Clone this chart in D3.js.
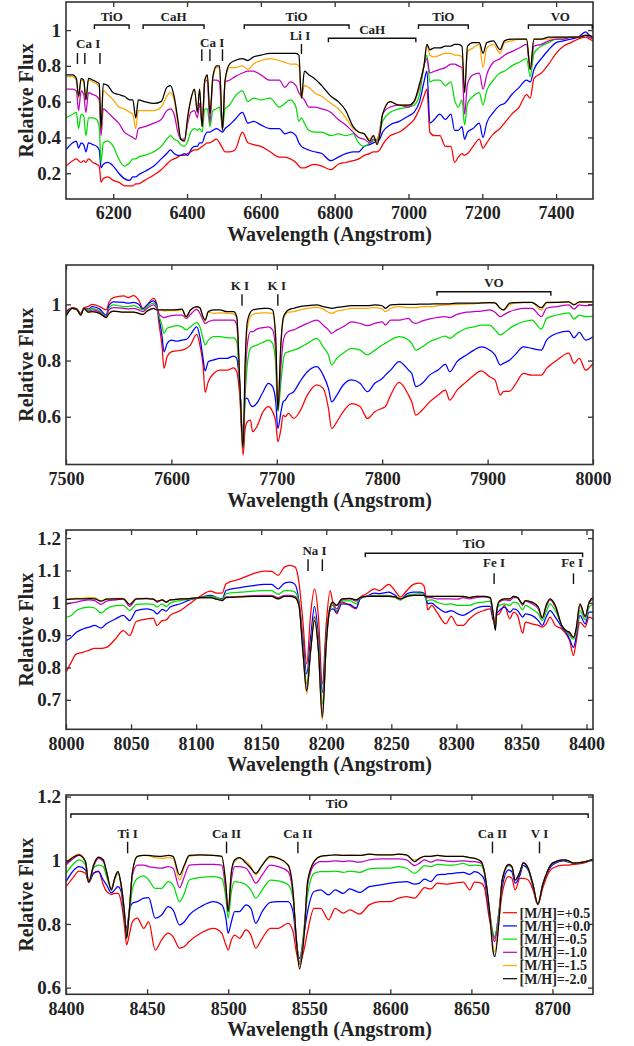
<!DOCTYPE html>
<html lang="en">
<head>
<meta charset="UTF-8">
<title>Model spectra at different metallicities</title>
<script src="https://d3js.org/d3.v7.min.js"></script>
<style>
  body { margin: 0; background: #fff; }
  text { font-family: "Liberation Serif", "Times New Roman", serif; font-weight: bold; fill: #222; }
</style>
</head>
<body>
<div id="chart"></div>
<script>
// legend labels and colours, drawn in this order (black last, on top)
const labels = ["[M/H]=+0.5", "[M/H]=+0.0", "[M/H]=-0.5", "[M/H]=-1.0", "[M/H]=-1.5", "[M/H]=-2.0"];
const colors = ["#ff0000", "#0000ff", "#00dd00", "#c000c0", "#ffa500", "#000000"];

// ---- panel 1: 6072-7500 A
const wave1 = [6072, 6090, 6100, 6106, 6113, 6120, 6126, 6133, 6145, 6155,
  6162, 6167, 6173, 6185, 6200, 6215, 6230, 6245, 6253, 6261,
  6268, 6285, 6310, 6330, 6345, 6355, 6365, 6375, 6383, 6393,
  6402, 6410, 6420, 6428, 6434, 6441, 6448, 6455, 6462, 6470,
  6480, 6488, 6496, 6503, 6515, 6530, 6550, 6565, 6580, 6600,
  6625, 6650, 6665, 6680, 6695, 6703, 6710, 6718, 6730, 6745,
  6765, 6790, 6810, 6830, 6850, 6865, 6880, 6895, 6905, 6915,
  6922, 6930, 6950, 6975, 7000, 7015, 7030, 7042, 7050, 7058,
  7070, 7085, 7100, 7115, 7125, 7135, 7145, 7152, 7160, 7175,
  7192, 7202, 7212, 7230, 7248, 7260, 7280, 7300, 7320, 7330,
  7340, 7360, 7380, 7400, 7420, 7440, 7460, 7480, 7490, 7500];
const p1_p05 = [.24, .27, .28, .27, .26, .27, .26, .28, .26, .25,
  .24, .15, .17, .18, .16, .15, .13, .13, .13, .14,
  .14, .16, .19, .22, .25, .27, .28, .29, .30, .30,
  .31, .32, .33, .33, .34, .35, .36, .37, .37, .38,
  .39, .37, .34, .32, .32, .33, .43, .37, .36, .35,
  .32, .29, .29, .28, .26, .24, .23, .23, .24, .25,
  .24, .22, .25, .26, .27, .28, .30, .31, .32, .32,
  .33, .36, .41, .43, .47, .50, .56, .63, .67, .43,
  .41, .41, .35, .35, .26, .29, .31, .30, .31, .35,
  .39, .34, .37, .42, .45, .48, .53, .57, .64, .62,
  .73, .76, .81, .87, .91, .93, .95, .96, .95, .94];
const p1_p00 = [.33, .37, .38, .34, .37, .36, .32, .37, .36, .35,
  .33, .23, .25, .26, .24, .20, .17, .16, .18, .18,
  .19, .21, .24, .28, .31, .33, .31, .30, .30, .31,
  .30, .33, .35, .35, .37, .37, .41, .43, .43, .44,
  .45, .44, .43, .45, .47, .50, .54, .48, .49, .47,
  .45, .45, .42, .43, .41, .37, .35, .34, .33, .32,
  .31, .27, .29, .31, .32, .32, .35, .36, .37, .38,
  .39, .43, .47, .49, .52, .54, .60, .71, .77, .48,
  .50, .53, .50, .53, .44, .44, .46, .39, .43, .45,
  .48, .40, .48, .54, .58, .59, .64, .68, .72, .71,
  .78, .84, .89, .93, .94, .95, .96, .99, .97, .95];
const p1_m05 = [.51, .53, .54, .45, .53, .52, .41, .51, .51, .50,
  .46, .26, .37, .38, .35, .28, .24, .26, .28, .28,
  .29, .30, .32, .35, .39, .41, .39, .38, .36, .35,
  .38, .43, .45, .44, .45, .43, .56, .56, .46, .55,
  .56, .57, .45, .56, .58, .63, .66, .60, .62, .61,
  .62, .57, .59, .61, .57, .49, .51, .48, .44, .43,
  .43, .41, .42, .41, .42, .37, .35, .37, .38, .39,
  .43, .49, .54, .56, .57, .58, .64, .80, .86, .71,
  .72, .72, .69, .71, .61, .57, .61, .47, .59, .63,
  .65, .58, .66, .72, .76, .77, .80, .82, .84, .74,
  .87, .91, .93, .95, .95, .96, .96, .97, .96, .95];
const p1_m10 = [.67, .67, .66, .55, .66, .64, .54, .65, .64, .63,
  .61, .41, .56, .54, .51, .48, .43, .41, .40, .39,
  .45, .46, .48, .50, .55, .56, .53, .43, .39, .39,
  .48, .54, .55, .51, .59, .46, .71, .72, .48, .72,
  .72, .71, .44, .71, .72, .74, .76, .77, .77, .75,
  .72, .72, .68, .71, .69, .65, .63, .61, .57, .57,
  .56, .54, .50, .47, .43, .40, .39, .37, .39, .38,
  .44, .53, .57, .58, .57, .60, .68, .80, .84, .76,
  .77, .78, .79, .81, .81, .80, .79, .53, .70, .75,
  .76, .67, .75, .82, .84, .86, .88, .90, .92, .78,
  .91, .92, .94, .95, .95, .96, .96, .97, .96, .95];
const p1_m15 = [.74, .74, .72, .62, .72, .71, .61, .72, .71, .70,
  .68, .45, .66, .64, .61, .57, .56, .54, .53, .45,
  .55, .55, .55, .57, .63, .65, .61, .48, .39, .38,
  .50, .61, .67, .54, .67, .46, .71, .74, .53, .73,
  .79, .79, .44, .71, .79, .79, .80, .78, .81, .83,
  .84, .83, .82, .81, .81, .80, .62, .69, .68, .65,
  .63, .59, .56, .51, .45, .43, .42, .39, .41, .37,
  .43, .53, .60, .58, .58, .60, .69, .80, .92, .86,
  .85, .86, .87, .87, .86, .86, .85, .65, .88, .90,
  .92, .79, .90, .92, .87, .93, .94, .95, .95, .78,
  .95, .95, .95, .96, .96, .96, .96, .97, .97, .96];
const p1_m20 = [.75, .75, .73, .63, .73, .72, .61, .73, .72, .71,
  .70, .45, .70, .69, .65, .64, .63, .61, .61, .51,
  .61, .60, .59, .60, .68, .69, .63, .50, .39, .38,
  .52, .61, .67, .54, .67, .46, .72, .75, .53, .74,
  .80, .80, .44, .72, .81, .83, .84, .83, .85, .86,
  .87, .87, .87, .87, .87, .86, .62, .77, .75, .73,
  .69, .63, .60, .55, .46, .43, .42, .38, .41, .36,
  .41, .53, .60, .58, .58, .60, .70, .80, .92, .89,
  .90, .90, .91, .91, .92, .92, .91, .65, .91, .93,
  .93, .87, .93, .94, .89, .94, .95, .95, .95, .78,
  .95, .95, .96, .96, .96, .96, .96, .97, .97, .96];

// ---- panel 2: 7500-8000 A
const wave2 = [7500, 7506, 7510, 7514, 7517, 7521, 7525, 7532, 7538, 7541,
  7545, 7555, 7559, 7564, 7569, 7573, 7577, 7583, 7586, 7588,
  7591, 7593, 7596, 7600, 7605, 7610, 7614, 7618, 7624, 7627,
  7630, 7632, 7635, 7640, 7646, 7653, 7659, 7662, 7665, 7668,
  7670, 7672, 7675, 7677, 7681, 7687, 7692, 7696, 7699, 7701,
  7704, 7706, 7708, 7711, 7716, 7722, 7729, 7738, 7744, 7749,
  7752, 7757, 7763, 7771, 7779, 7786, 7793, 7800, 7803, 7808,
  7816, 7825, 7828, 7832, 7838, 7845, 7853, 7860, 7864, 7871,
  7880, 7887, 7894, 7902, 7907, 7912, 7915, 7921, 7926, 7934,
  7942, 7951, 7956, 7966, 7977, 7982, 7987, 7993, 8000];
const p2_p05 = [.974, .988, .985, .968, .988, .992, 1.000, .992, .980, 1.009,
  1.024, 1.030, 1.024, 1.031, 1.015, .986, .998, 1.021, 1.004, .938,
  .855, .772, .814, .831, .834, .837, .843, .855, .893, .855,
  .784, .687, .725, .754, .766, .766, .774, .760, .665, .463,
  .558, .582, .588, .547, .564, .618, .636, .618, .582, .511,
  .558, .606, .600, .612, .594, .620, .677, .713, .701, .630,
  .558, .582, .618, .647, .636, .594, .618, .630, .636, .677,
  .722, .677, .653, .606, .624, .653, .677, .695, .659, .695,
  .725, .748, .763, .742, .731, .677, .689, .691, .713, .754,
  .748, .748, .772, .802, .826, .790, .808, .766, .790];
const p2_p00 = [.972, .986, .983, .962, .986, .983, .992, .983, .962, .998,
  1.009, 1.007, 1.004, 1.007, 1.000, .983, .998, 1.012, .998, .956,
  .891, .831, .861, .873, .869, .873, .875, .891, .920, .885,
  .808, .763, .796, .802, .808, .808, .816, .808, .701, .511,
  .665, .665, .642, .636, .648, .689, .719, .707, .653, .558,
  .618, .653, .659, .677, .689, .725, .760, .778, .748, .701,
  .653, .677, .713, .731, .719, .689, .719, .736, .748, .766,
  .796, .766, .754, .707, .719, .748, .766, .786, .760, .796,
  .820, .837, .849, .837, .820, .784, .790, .802, .820, .849,
  .843, .837, .873, .897, .905, .881, .900, .873, .885];
const p2_m05 = [.968, .986, .983, .962, .986, .980, .986, .976, .957, .988,
  .998, .992, .992, .995, .988, .980, .992, 1.004, .992, .962,
  .926, .897, .915, .920, .924, .920, .909, .920, .935, .920,
  .879, .855, .873, .885, .885, .881, .881, .867, .701, .487,
  .677, .784, .843, .849, .855, .865, .873, .861, .784, .618,
  .725, .796, .826, .831, .837, .846, .861, .879, .849, .820,
  .784, .808, .826, .843, .837, .820, .837, .855, .861, .873,
  .885, .873, .861, .837, .849, .867, .879, .887, .879, .897,
  .915, .920, .926, .926, .909, .891, .897, .915, .926, .938,
  .944, .912, .950, .962, .970, .948, .962, .956, .958];
const p2_m10 = [.964, .986, .983, .962, .986, .976, .980, .972, .955, .982,
  .988, .986, .983, .986, .980, .974, .986, .998, .986, .968,
  .956, .953, .956, .960, .962, .962, .950, .964, .982, .968,
  .944, .932, .938, .944, .944, .944, .944, .926, .701, .493,
  .725, .855, .903, .903, .912, .917, .920, .909, .831, .624,
  .784, .867, .893, .903, .909, .920, .932, .944, .926, .909,
  .897, .909, .920, .938, .932, .924, .932, .938, .926, .944,
  .944, .950, .938, .932, .941, .948, .954, .956, .953, .964,
  .972, .974, .976, .980, .972, .956, .962, .974, .980, .986,
  .986, .956, .986, .992, .998, .983, .998, .995, .998];
const p2_m15 = [.958, .986, .983, .962, .986, .972, .974, .968, .953, .968,
  .976, .972, .972, .972, .968, .964, .976, .986, .980, .980,
  .980, .976, .978, .978, .978, .980, .953, .978, .990, .986,
  .953, .941, .972, .968, .970, .968, .966, .950, .701, .487,
  .784, .915, .956, .964, .968, .970, .970, .968, .867, .630,
  .867, .944, .962, .972, .974, .980, .986, .989, .983, .972,
  .968, .976, .980, .986, .986, .986, .988, .983, .974, .986,
  .992, .988, .988, .988, .992, .992, .995, .998, .998, 1.000,
  1.001, 1.002, 1.004, 1.005, 1.004, .986, .980, .998, 1.004, 1.006,
  1.006, .980, 1.004, 1.007, 1.009, 1.000, 1.007, 1.007, 1.009];
const p2_m20 = [.958, .986, .983, .962, .986, .972, .974, .968, .953, .968,
  .976, .972, .972, .972, .968, .964, .976, .986, .980, .980,
  .980, .980, .980, .980, .981, .983, .956, .980, .992, .988,
  .956, .944, .974, .980, .980, .974, .974, .956, .713, .487,
  .796, .938, .972, .980, .983, .986, .986, .980, .879, .624,
  .867, .950, .968, .980, .986, .992, .995, .998, .992, .988,
  .986, .989, .992, .995, .995, .995, .998, .995, .986, .998,
  1.000, 1.000, 1.000, 1.000, 1.001, 1.001, 1.002, 1.002, 1.002, 1.004,
  1.004, 1.004, 1.005, 1.006, 1.005, .986, .980, 1.004, 1.006, 1.007,
  1.007, .988, 1.007, 1.007, 1.009, .998, 1.009, 1.009, 1.009];

// ---- panel 3: 8000-8405 A
const wave3 = [8000, 8004, 8008, 8013, 8018, 8022, 8027, 8031, 8038, 8044,
  8049, 8054, 8062, 8067, 8070, 8074, 8077, 8080, 8088, 8095,
  8103, 8111, 8116, 8120, 8123, 8134, 8144, 8152, 8158, 8163,
  8168, 8172, 8176, 8179, 8182, 8185, 8188, 8191, 8194, 8197,
  8200, 8203, 8205, 8208, 8212, 8218, 8223, 8226, 8231, 8237,
  8241, 8248, 8253, 8257, 8262, 8267, 8272, 8275, 8277, 8278,
  8281, 8285, 8292, 8296, 8301, 8305, 8310, 8315, 8321, 8326,
  8328, 8330, 8331, 8333, 8337, 8341, 8344, 8347, 8351, 8353,
  8358, 8363, 8366, 8369, 8372, 8376, 8381, 8385, 8387, 8390,
  8392, 8395, 8399, 8402, 8405];
const p3_p05 = [.785, .816, .842, .847, .854, .859, .859, .862, .888, .914,
  .899, .942, .950, .953, .930, .945, .947, .961, .976, .997,
  1.020, 1.036, 1.030, 1.030, 1.059, 1.074, 1.090, 1.098, 1.097, 1.085,
  1.111, 1.116, 1.111, 1.064, .945, .811, .966, 1.043, .956, .749,
  .935, 1.038, 1.002, .966, 1.002, .992, .981, 1.016, 1.028, 1.043,
  1.038, 1.057, 1.036, 1.018, 1.038, 1.057, 1.061, 1.053, 1.007, .978,
  .992, .971, .935, .958, .930, .930, .950, .966, .976, .981,
  .950, .935, .961, .966, .992, .950, .971, .961, .906, .940,
  .935, .930, .925, .935, .956, .930, .919, .899, .883, .837,
  .878, .940, .925, .956, .950];
const p3_p00 = [.883, .893, .909, .919, .925, .930, .922, .935, .950, .961,
  .945, .976, .981, .976, .966, .980, .974, .987, .997, 1.009,
  1.016, 1.023, 1.016, 1.012, 1.038, 1.047, 1.053, 1.057, 1.057, 1.043,
  1.061, 1.064, 1.057, 1.007, .893, .780, .893, .989, .893, .723,
  .904, .976, .981, .971, .997, .995, .984, 1.012, 1.020, 1.030,
  1.028, 1.033, 1.023, 1.009, 1.028, 1.033, 1.033, 1.030, 1.007, .997,
  .999, .987, .971, .976, .966, .961, .971, .983, .989, .989,
  .956, .930, .966, .976, .987, .971, .981, .976, .956, .966,
  .961, .945, .930, .956, .976, .956, .925, .904, .888, .862,
  .893, .961, .935, .971, .971];
const p3_m05 = [.956, .961, .976, .984, .987, .984, .968, .981, .991, .992,
  .976, .995, .997, .995, .987, .997, .988, .999, 1.007, 1.011,
  1.016, 1.020, 1.016, 1.010, 1.028, 1.033, 1.036, 1.038, 1.038, 1.026,
  1.038, 1.038, 1.033, 1.002, .873, .749, .862, .958, .873, .687,
  .893, .981, .992, .976, 1.005, 1.007, .997, 1.016, 1.020, 1.023,
  1.023, 1.023, 1.016, 1.009, 1.023, 1.026, 1.028, 1.026, 1.009, 1.007,
  1.009, 1.002, .995, .997, .992, .992, .992, .999, 1.002, 1.005,
  .966, .930, .976, .992, .997, .992, 1.002, .999, .978, .992,
  .981, .966, .945, .971, .997, .976, .930, .909, .899, .888,
  .904, .976, .947, .987, .995];
const p3_m10 = [.995, .999, 1.002, 1.007, 1.009, 1.007, .995, 1.005, 1.009, 1.012,
  .989, 1.012, 1.014, 1.012, 1.002, 1.009, 1.002, 1.009, 1.012, 1.013,
  1.016, 1.016, 1.011, 1.007, 1.018, 1.020, 1.022, 1.023, 1.023, 1.016,
  1.023, 1.023, 1.020, .997, .862, .728, .852, .956, .852, .656,
  .873, .987, .999, .981, 1.009, 1.012, 1.005, 1.016, 1.020, 1.021,
  1.021, 1.021, 1.018, 1.012, 1.020, 1.023, 1.023, 1.023, 1.016, 1.016,
  1.016, 1.012, 1.012, 1.012, 1.011, 1.016, 1.012, 1.016, 1.018, 1.014,
  .971, .925, .976, 1.002, 1.009, 1.007, 1.016, 1.016, .992, 1.005,
  .997, .981, .953, .987, 1.009, .987, .930, .912, .904, .893,
  .914, .992, .956, .999, 1.012];
const p3_m15 = [1.012, 1.013, 1.014, 1.014, 1.016, 1.016, 1.005, 1.012, 1.014, 1.014,
  .995, 1.014, 1.014, 1.012, 1.005, 1.009, 1.002, 1.009, 1.012, 1.013,
  1.016, 1.016, 1.011, 1.007, 1.016, 1.018, 1.020, 1.020, 1.020, 1.012,
  1.020, 1.020, 1.016, .992, .852, .718, .852, .950, .852, .637,
  .873, .987, 1.002, .992, 1.012, 1.014, 1.009, 1.016, 1.020, 1.020,
  1.020, 1.020, 1.018, 1.012, 1.020, 1.023, 1.023, 1.023, 1.020, 1.020,
  1.020, 1.020, 1.020, 1.020, 1.020, 1.020, 1.016, 1.020, 1.020, 1.016,
  .976, .919, .976, 1.005, 1.012, 1.012, 1.020, 1.016, .997, 1.007,
  1.002, .987, .953, .992, 1.012, .992, .930, .912, .909, .893,
  .919, .997, .958, 1.002, 1.016];
const p3_m20 = [1.010, 1.011, 1.012, 1.012, 1.013, 1.012, 1.005, 1.011, 1.012, 1.012,
  .995, 1.012, 1.013, 1.011, 1.005, 1.009, 1.002, 1.009, 1.012, 1.013,
  1.016, 1.016, 1.011, 1.007, 1.016, 1.018, 1.020, 1.020, 1.020, 1.012,
  1.020, 1.020, 1.016, .992, .852, .728, .852, .945, .852, .645,
  .873, .987, 1.002, .992, 1.012, 1.014, 1.009, 1.016, 1.020, 1.020,
  1.020, 1.020, 1.018, 1.012, 1.020, 1.023, 1.023, 1.023, 1.020, 1.020,
  1.020, 1.020, 1.020, 1.020, 1.020, 1.020, 1.016, 1.020, 1.020, 1.016,
  .976, .914, .976, 1.005, 1.012, 1.012, 1.020, 1.016, .997, 1.007,
  1.002, .987, .953, .992, 1.012, .992, .930, .912, .909, .893,
  .919, .997, .958, 1.002, 1.016];

// ---- panel 4: 8400-8725 A
const wave4 = [8400, 8404, 8408, 8412, 8414, 8417, 8420, 8423, 8425, 8428,
  8430, 8432, 8434, 8436, 8437.4, 8439, 8441, 8444, 8448, 8451,
  8455, 8459, 8463, 8466, 8470, 8473, 8476, 8483, 8491, 8496,
  8498.6, 8500, 8502, 8504, 8507, 8511, 8514, 8517, 8521, 8526,
  8531, 8537, 8540, 8542, 8544, 8547, 8549, 8553, 8557, 8562,
  8566, 8571, 8575, 8581, 8587, 8594, 8600, 8605, 8610, 8615,
  8618, 8621, 8625, 8629, 8634, 8639, 8645, 8649, 8652, 8656,
  8658, 8661, 8663.4, 8664.4, 8667, 8669, 8673, 8675, 8677, 8680,
  8682, 8685, 8688, 8691, 8694, 8697, 8700, 8707, 8710, 8713,
  8719, 8725];
const p4_p05 = [.917, .943, .966, .959, .931, .959, .966, .923, .902, .893,
  .896, .896, .870, .797, .734, .765, .807, .818, .786, .807,
  .718, .750, .771, .760, .724, .729, .745, .771, .786, .771,
  .734, .718, .750, .765, .755, .781, .765, .724, .755, .786,
  .786, .802, .776, .713, .675, .724, .776, .849, .849, .813,
  .849, .834, .844, .831, .860, .870, .870, .881, .886, .881,
  .896, .914, .910, .928, .925, .928, .931, .907, .931, .928,
  .914, .818, .765, .755, .818, .896, .949, .943, .907, .943,
  .943, .938, .907, .860, .912, .954, .975, .985, .985, .987,
  .991, 1.003];
const p4_p00 = [.933, .964, .980, .970, .931, .959, .964, .938, .923, .898,
  .907, .917, .902, .818, .786, .839, .865, .870, .881, .883,
  .818, .828, .854, .844, .797, .807, .828, .854, .870, .860,
  .818, .771, .807, .839, .839, .860, .849, .802, .839, .868,
  .870, .870, .839, .745, .692, .776, .839, .902, .907, .891,
  .907, .896, .910, .899, .917, .923, .928, .931, .933, .925,
  .928, .941, .933, .954, .956, .959, .962, .956, .964, .954,
  .938, .834, .765, .760, .839, .917, .970, .964, .928, .954,
  .983, .970, .917, .862, .923, .962, .985, .998, .994, .991,
  .994, 1.003];
const p4_m05 = [.959, .985, 1.001, .985, .931, .975, .985, .980, .949, .912,
  .938, .959, .923, .828, .776, .828, .912, .943, .951, .938,
  .912, .912, .933, .923, .870, .896, .938, .946, .949, .943,
  .881, .818, .902, .933, .931, .923, .907, .881, .907, .938,
  .935, .923, .881, .755, .682, .797, .891, .959, .964, .964,
  .966, .962, .966, .962, .973, .975, .975, .980, .975, .959,
  .970, .983, .980, .987, .985, .985, .990, .983, .985, .983,
  .959, .849, .771, .760, .839, .933, .983, .977, .938, .964,
  .991, .973, .923, .862, .923, .966, .991, 1.001, .996, .991,
  .994, 1.003];
const p4_m10 = [.985, 1.004, 1.015, .996, .931, .980, 1.006, .996, .964, .907,
  .943, .964, .923, .839, .765, .839, .954, .985, .985, .980,
  .977, .975, .980, .975, .914, .949, .985, .987, .987, .985,
  .902, .839, .938, .980, .980, .975, .954, .928, .954, .985,
  .980, .964, .891, .755, .673, .786, .923, .985, .996, .996,
  .998, .996, .998, .994, 1.001, 1.004, 1.004, 1.004, 1.001, .983,
  .991, 1.001, .994, 1.001, .998, .996, .998, .996, .996, .991,
  .964, .849, .755, .745, .828, .938, .985, .980, .938, .964,
  .993, .975, .923, .862, .923, .966, .991, 1.001, .998, .991,
  .994, 1.003];
const p4_m15 = [.994, 1.010, 1.019, .996, .931, .985, 1.010, 1.001, .964, .907,
  .943, .964, .923, .839, .755, .839, .964, 1.012, 1.015, 1.014,
  1.008, 1.006, 1.008, 1.006, .938, .980, 1.012, 1.017, 1.015, 1.012,
  .923, .839, .964, .996, 1.006, .996, .980, .954, .985, 1.008,
  1.006, .985, .902, .755, .666, .776, .933, .996, 1.012, 1.015,
  1.017, 1.015, 1.017, 1.015, 1.019, 1.017, 1.017, 1.019, 1.015, 1.001,
  1.004, 1.012, 1.012, 1.015, 1.012, 1.012, 1.012, 1.008, 1.006, .996,
  .964, .849, .729, .713, .813, .938, .987, .980, .938, .964,
  .991, .975, .923, .862, .923, .966, .991, 1.001, .998, .991,
  .994, 1.003];
const p4_m20 = [.991, 1.008, 1.017, .996, .931, .985, 1.010, 1.001, .964, .907,
  .943, .964, .923, .839, .755, .839, .964, 1.012, 1.015, 1.015,
  1.013, 1.012, 1.015, 1.012, .954, .985, 1.015, 1.017, 1.015, 1.012,
  .923, .839, .964, 1.001, 1.008, .991, .975, .959, .985, 1.012,
  1.006, .985, .902, .755, .659, .776, .933, .996, 1.012, 1.015,
  1.017, 1.015, 1.015, 1.015, 1.019, 1.017, 1.017, 1.019, 1.017, .996,
  1.006, 1.012, 1.012, 1.015, 1.012, 1.012, 1.012, 1.008, 1.006, .996,
  .964, .849, .713, .697, .807, .938, .987, .980, .938, .964,
  .991, .975, .923, .862, .923, .966, .991, 1.001, .998, .991,
  .994, 1.003];

// panel layout and line identifications (y offsets are px below the frame top)
const panels = [
  { wave: wave1, flux: [p1_p05, p1_p00, p1_m05, p1_m10, p1_m15, p1_m20],
    xDomain: [6072, 7500], yDomain: [0.056, 1.157], top: 2, bottom: 199,
    xTicks: d3.range(6200, 7401, 200), yTicks: [0.2, 0.4, 0.6, 0.8, 1],
    xLabelY: 241, brackets: [
      { from: 6149, to: 6243, y: 23, label: "TiO", ly: 18.5 },
      { from: 6281, to: 6446, y: 23, label: "CaH", ly: 18.5 },
      { from: 6555, to: 6839, y: 23, label: "TiO", ly: 18.5 },
      { from: 6783, to: 7020, y: 36.3, label: "CaH", ly: 32 },
      { from: 7027, to: 7162, y: 23, label: "TiO", ly: 18.5 },
      { from: 7325, to: 7498, y: 23, label: "VO", ly: 18.5 }],
    marks: [
      { lines: [6103, 6123, 6164], y0: 51, y1: 62, label: "Ca I", at: 6132, ly: 46 },
      { lines: [6440, 6462, 6496], y0: 47.3, y1: 59, label: "Ca I", at: 6468, ly: 44.5 },
      { lines: [6710], y0: 42, y1: 52, label: "Li I", at: 6706, ly: 38 }] },
  { wave: wave2, flux: [p2_p05, p2_p00, p2_m05, p2_m10, p2_m15, p2_m20],
    xDomain: [7500, 8000], yDomain: [0.43, 1.14], top: 265, bottom: 464.5,
    xTicks: d3.range(7500, 8001, 100), yTicks: [0.6, 0.8, 1],
    xLabelY: 507, brackets: [
      { from: 7852, to: 7960, y: 26.7, label: "VO", ly: 21.5 }],
    marks: [
      { lines: [7667], y0: 29.3, y1: 40.7, label: "K I", at: 7665, ly: 25 },
      { lines: [7701], y0: 29.3, y1: 40.7, label: "K I", at: 7700, ly: 25 }] },
  { wave: wave3, flux: [p3_p05, p3_p00, p3_m05, p3_m10, p3_m15, p3_m20],
    xDomain: [8000, 8405], yDomain: [0.609, 1.225], top: 530, bottom: 729.3,
    xTicks: d3.range(8000, 8401, 50), yTicks: [0.7, 0.8, 0.9, 1, 1.1, 1.2],
    xLabelY: 771, brackets: [
      { from: 8230, to: 8397, y: 23.3, label: "TiO", ly: 18.3 }],
    marks: [
      { lines: [8186, 8197], y0: 29.3, y1: 41, label: "Na I", at: 8191, ly: 25 },
      { lines: [8329], y0: 43.3, y1: 54, label: "Fe I", at: 8329, ly: 37.3 },
      { lines: [8390], y0: 43.3, y1: 54, label: "Fe I", at: 8389, ly: 37.3 }] },
  { wave: wave4, flux: [p4_p05, p4_p00, p4_m05, p4_m10, p4_m15, p4_m20],
    xDomain: [8400, 8725], yDomain: [0.579, 1.205], top: 795, bottom: 994.3,
    xTicks: d3.range(8400, 8701, 50), yTicks: [0.6, 0.8, 1, 1.2],
    xLabelY: 1036, legend: true, brackets: [
      { from: 8403, to: 8722, y: 19, label: "TiO", at: 8567, ly: 13.3 }],
    marks: [
      { lines: [8438], y0: 46.7, y1: 58.3, label: "Ti I", at: 8438, ly: 42.7 },
      { lines: [8499], y0: 46.7, y1: 58.3, label: "Ca II", at: 8499, ly: 42.7 },
      { lines: [8543], y0: 46.7, y1: 58.3, label: "Ca II", at: 8543, ly: 42.7 },
      { lines: [8663], y0: 46.7, y1: 58.3, label: "Ca II", at: 8663, ly: 42.7 },
      { lines: [8692], y0: 46.7, y1: 58.3, label: "V I", at: 8692, ly: 42.7 }] }
];

const width = 634, height = 1046;
const left = 66, right = 593;
const frameColor = "#333";
const fmtY = v => String(+v.toFixed(2));

const svg = d3.select("#chart").append("svg")
  .attr("width", width)
  .attr("height", height);

panels.forEach((p, k) => {
  const x = d3.scaleLinear().domain(p.xDomain).range([left, right]);
  const y = d3.scaleLinear().domain(p.yDomain).range([p.bottom, p.top]);
  const g = svg.append("g");

  g.append("clipPath").attr("id", "clip" + k)
    .append("rect")
    .attr("x", left).attr("y", p.top)
    .attr("width", right - left).attr("height", p.bottom - p.top);

  // spectra
  const line = d3.line()
    .x((d, i) => x(p.wave[i]))
    .y(d => y(d))
    .curve(d3.curveMonotoneX);
  g.append("g").attr("clip-path", `url(#clip${k})`)
    .selectAll("path")
    .data(p.flux)
    .join("path")
    .attr("d", line)
    .attr("fill", "none")
    .attr("stroke", (d, i) => colors[i])
    .attr("stroke-width", 1.25)
    .attr("stroke-linejoin", "round");

  // axes, ticks pointing inward on all four sides
  const styleAxis = size => sel => {
    sel.select(".domain").remove();
    sel.selectAll(".tick line").attr("stroke", frameColor).attr("stroke-width", 1.3);
    sel.attr("font-size", size);
  };
  g.append("g").attr("transform", `translate(0,${p.bottom})`)
    .call(d3.axisBottom(x).tickValues(p.xTicks).tickSize(-5).tickPadding(7.5).tickFormat(d3.format("d")))
    .call(styleAxis(18));
  g.append("g").attr("transform", `translate(0,${p.top})`)
    .call(d3.axisTop(x).tickValues(p.xTicks).tickSize(-5).tickFormat(""))
    .call(styleAxis(18));
  g.append("g").attr("transform", `translate(${left},0)`)
    .call(d3.axisLeft(y).tickValues(p.yTicks).tickSize(-5).tickPadding(5).tickFormat(fmtY))
    .call(styleAxis(19));
  g.append("g").attr("transform", `translate(${right},0)`)
    .call(d3.axisRight(y).tickValues(p.yTicks).tickSize(-5).tickFormat(""))
    .call(styleAxis(19));

  g.append("rect")
    .attr("x", left).attr("y", p.top)
    .attr("width", right - left).attr("height", p.bottom - p.top)
    .attr("fill", "none")
    .attr("stroke", frameColor)
    .attr("stroke-width", 1.6);

  // axis titles
  g.append("text")
    .attr("x", (left + right) / 2).attr("y", p.xLabelY)
    .attr("text-anchor", "middle")
    .attr("font-size", 20)
    .text("Wavelength (Angstrom)");
  g.append("text")
    .attr("transform", `translate(33,${(p.top + p.bottom) / 2}) rotate(-90)`)
    .attr("text-anchor", "middle")
    .attr("font-size", 20)
    .text("Relative Flux");

  // band brackets
  p.brackets.forEach(b => {
    const x0 = x(b.from), x1 = x(b.to), yy = p.top + b.y;
    g.append("path")
      .attr("d", `M${x0},${yy + 4}V${yy}H${x1}V${yy + 4}`)
      .attr("fill", "none").attr("stroke", "#111").attr("stroke-width", 1.4);
    g.append("text")
      .attr("x", b.at !== undefined ? x(b.at) : (x0 + x1) / 2)
      .attr("y", p.top + b.ly)
      .attr("text-anchor", "middle")
      .attr("font-size", 13)
      .text(b.label);
  });

  // atomic line markers
  p.marks.forEach(m => {
    m.lines.forEach(w => {
      g.append("line")
        .attr("x1", x(w)).attr("x2", x(w))
        .attr("y1", p.top + m.y0).attr("y2", p.top + m.y1)
        .attr("stroke", "#111").attr("stroke-width", 1.4);
    });
    g.append("text")
      .attr("x", x(m.at)).attr("y", p.top + m.ly)
      .attr("text-anchor", "middle")
      .attr("font-size", 13)
      .text(m.label);
  });

  if (p.legend) {
    const lg = g.append("g").attr("transform", "translate(503,912.7)");
    const item = lg.selectAll("g").data(labels).join("g")
      .attr("transform", (d, i) => `translate(0,${i * 13.2})`);
    item.append("line")
      .attr("x1", 0).attr("x2", 14)
      .attr("stroke", (d, i) => colors[i]).attr("stroke-width", 1.2);
    item.append("text")
      .attr("x", 16.5).attr("dy", "0.35em")
      .attr("font-size", 14)
      .text(d => d);
  }
});
</script>
</body>
</html>
